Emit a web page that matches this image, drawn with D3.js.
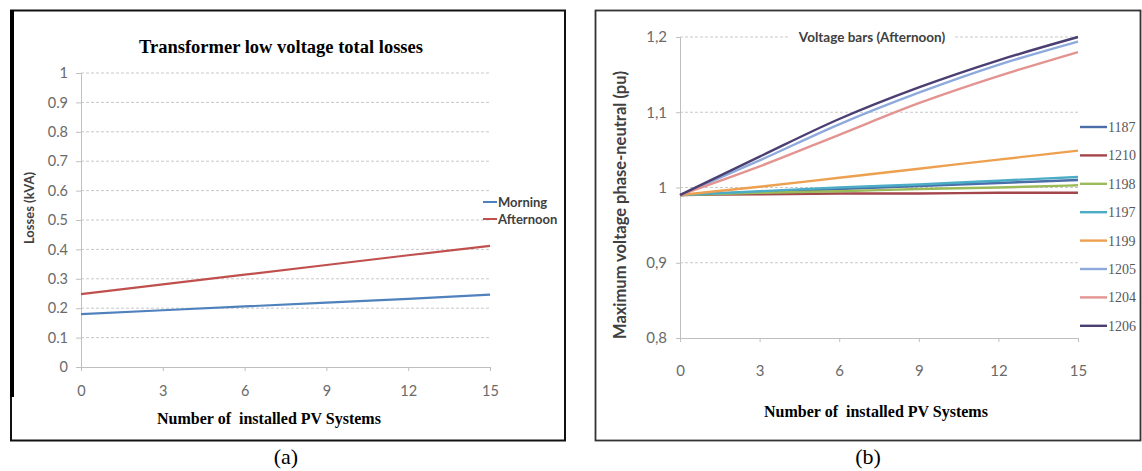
<!DOCTYPE html>
<html>
<head>
<meta charset="utf-8">
<script src="https://cdn.jsdelivr.net/npm/d3@7/dist/d3.min.js"></script>
<style>
  html, body { margin: 0; padding: 0; background: #fff; }
  svg { display: block; }
  .tick text { fill: #6a6a6a; font-family: Lato, "Open Sans", sans-serif; }
  .domain, .tick line { stroke: #bfbfbf; }
</style>
</head>
<body>
<svg id="fig" width="1142" height="471"></svg>
<script>
// ---- Panel (a): transformer losses ----
const pvCountsA = [0, 3, 6, 9, 12, 15];
const lossMorning = [0.180, 0.193, 0.206, 0.219, 0.232, 0.246];
const lossAfternoon = [0.248, 0.281, 0.314, 0.347, 0.380, 0.412];
const lossSeries = ["Morning", "Afternoon"];
const lossTicks = [0, 0.1, 0.2, 0.3, 0.4, 0.5, 0.6, 0.7, 0.8, 0.9, 1];
const pvTicks = [0, 3, 6, 9, 12, 15];

// ---- Panel (b): bus voltages, afternoon ----
const pvCountsB = [0, 3, 6, 9, 12, 15];
const busNames = ["1187", "1210", "1198", "1197", "1199", "1205", "1204", "1206"];
const v1187 = [0.990, 0.994, 0.998, 1.002, 1.006, 1.010];
const v1210 = [0.990, 0.991, 0.992, 0.992, 0.993, 0.993];
const v1198 = [0.990, 0.993, 0.995, 0.998, 1.000, 1.003];
const v1197 = [0.990, 0.995, 1.000, 1.004, 1.009, 1.014];
const v1199 = [0.990, 1.001, 1.013, 1.025, 1.037, 1.049];
const v1205 = [0.990, 1.036, 1.084, 1.126, 1.163, 1.194];
const v1204 = [0.990, 1.028, 1.070, 1.112, 1.148, 1.180];
const v1206 = [0.990, 1.041, 1.091, 1.133, 1.169, 1.200];
const voltTicks = [0.8, 0.9, 1, 1.1, 1.2];

const svg = d3.select("#fig");

// ================= Panel (a) =================
const ga = svg.append("g");
// frame
ga.append("rect").attr("x", 11).attr("y", 10.5).attr("width", 554).attr("height", 430)
  .attr("fill", "none").attr("stroke", "#111").attr("stroke-width", 2);
ga.append("line").attr("x1", 12).attr("x2", 12).attr("y1", 10).attr("y2", 397)
  .attr("stroke", "#000").attr("stroke-width", 4);

const xA = d3.scaleLinear().domain([0, 15]).range([81, 490]);
const yA = d3.scaleLinear().domain([0, 1]).range([367, 73]);

// gridlines
ga.append("g").selectAll("line").data(lossTicks.filter(d => d > 0)).join("line")
  .attr("x1", xA(0)).attr("x2", xA(15))
  .attr("y1", d => yA(d)).attr("y2", d => yA(d))
  .attr("stroke", "#c9c9c9").attr("stroke-dasharray", "3,2");

ga.append("g").attr("transform", `translate(${xA(0)},0)`)
  .call(d3.axisLeft(yA).tickValues(lossTicks).tickFormat(d3.format("")).tickSize(5).tickPadding(8))
  .call(g => g.selectAll(".tick text").attr("font-size", 14.5));
ga.append("g").attr("transform", `translate(0,${yA(0)})`)
  .call(d3.axisBottom(xA).tickValues(pvTicks).tickSize(4).tickPadding(15))
  .call(g => g.selectAll(".tick text").attr("font-size", 14.5));

const lossColors = ["#4f81bd", "#c0504d"];
const lossData = [lossMorning, lossAfternoon];
const lineA = d3.line().x((d, i) => xA(pvCountsA[i])).y(d => yA(d));
ga.append("g").selectAll("path").data(lossData).join("path")
  .attr("d", lineA).attr("fill", "none")
  .attr("stroke", (d, i) => lossColors[i]).attr("stroke-width", 2.2);

// legend
const legA = ga.append("g").selectAll("g").data(lossSeries).join("g")
  .attr("transform", (d, i) => `translate(483,${202 + i * 17})`);
legA.append("line").attr("x1", 0).attr("x2", 14)
  .attr("stroke", (d, i) => lossColors[i]).attr("stroke-width", 2);
legA.append("text").attr("x", 15).attr("dy", "0.35em")
  .attr("font-family", "Lato, sans-serif").attr("font-weight", "bold").attr("font-size", 13)
  .attr("fill", "#404040").text(d => d);

ga.append("text").attr("x", 281).attr("y", 53).attr("text-anchor", "middle")
  .attr("font-family", "'Liberation Serif', serif").attr("font-weight", "bold").attr("font-size", 18.5)
  .text("Transformer low voltage total losses");
ga.append("text").attr("x", 269).attr("y", 424).attr("text-anchor", "middle")
  .attr("font-family", "'Liberation Serif', serif").attr("font-weight", "bold").attr("font-size", 16)
  .style("white-space", "pre")
  .text("Number of  installed PV Systems");
ga.append("text").attr("transform", "translate(34,208) rotate(-90)").attr("text-anchor", "middle")
  .attr("font-family", "Lato, sans-serif").attr("font-weight", "bold").attr("font-size", 13)
  .attr("fill", "#404040").text("Losses (kVA)");
ga.append("text").attr("x", 286).attr("y", 464).attr("text-anchor", "middle")
  .attr("font-family", "'Liberation Serif', serif").attr("font-size", 22).text("(a)");

// ================= Panel (b) =================
const gb = svg.append("g");
gb.append("rect").attr("x", 595.5).attr("y", 10.5).attr("width", 545).attr("height", 430)
  .attr("fill", "none").attr("stroke", "#333").attr("stroke-width", 1.8);

const xB = d3.scaleLinear().domain([0, 15]).range([680, 1078]);
const yB = d3.scaleLinear().domain([0.8, 1.2]).range([338, 37]);

gb.append("g").selectAll("line").data(voltTicks.filter(d => d > 0.8)).join("line")
  .attr("x1", xB(0)).attr("x2", xB(15))
  .attr("y1", d => yB(d)).attr("y2", d => yB(d))
  .attr("stroke", "#c9c9c9").attr("stroke-dasharray", "3,2");

const commaFmt = d => String(d).replace(".", ",");
gb.append("g").attr("transform", `translate(${xB(0)},0)`)
  .call(d3.axisLeft(yB).tickValues(voltTicks).tickFormat(commaFmt).tickSize(4).tickPadding(9))
  .call(g => g.selectAll(".tick text").attr("font-size", 15));
gb.append("g").attr("transform", `translate(0,${yB(0.8)})`)
  .call(d3.axisBottom(xB).tickValues(pvTicks).tickSize(4).tickPadding(23))
  .call(g => g.selectAll(".tick text").attr("font-size", 15));

// chart title sits over the top gridline
const titleB = gb.append("g");
titleB.append("rect").attr("x", 789).attr("y", 28).attr("width", 166).attr("height", 18).attr("fill", "#fff");
titleB.append("text").attr("x", 872).attr("y", 37).attr("dy", "0.35em").attr("text-anchor", "middle")
  .attr("font-family", "Lato, sans-serif").attr("font-weight", "bold").attr("font-size", 13.5)
  .attr("fill", "#404040").text("Voltage bars (Afternoon)");

const busColors = ["#4a6ea8", "#a4474c", "#9bbb59", "#4bacc6", "#eda04f", "#8eaadc", "#e39490", "#4b3f72"];
const busData = [v1187, v1210, v1198, v1197, v1199, v1205, v1204, v1206];
const lineB = d3.line().curve(d3.curveMonotoneX).x((d, i) => xB(pvCountsB[i])).y(d => yB(d));
gb.append("g").selectAll("path").data(busData).join("path")
  .attr("d", lineB).attr("fill", "none")
  .attr("stroke", (d, i) => busColors[i]).attr("stroke-width", 2.4);

const legB = gb.append("g").selectAll("g").data(busNames).join("g")
  .attr("transform", (d, i) => `translate(1080,${127 + i * 28.4})`);
legB.append("line").attr("x1", 0).attr("x2", 27)
  .attr("stroke", (d, i) => busColors[i]).attr("stroke-width", 2.4);
legB.append("text").attr("x", 28).attr("dy", "0.35em")
  .attr("font-family", "'Liberation Serif', serif").attr("font-size", 14)
  .attr("fill", "#595959").text(d => d);

gb.append("text").attr("x", 876).attr("y", 417).attr("text-anchor", "middle")
  .attr("font-family", "'Liberation Serif', serif").attr("font-weight", "bold").attr("font-size", 16)
  .style("white-space", "pre")
  .text("Number of  installed PV Systems");
gb.append("text").attr("transform", "translate(626,205) rotate(-90)").attr("text-anchor", "middle")
  .attr("font-family", "Lato, sans-serif").attr("font-weight", "bold").attr("font-size", 16.5)
  .attr("fill", "#404040").text("Maximum voltage phase-neutral (pu)");
gb.append("text").attr("x", 868).attr("y", 464).attr("text-anchor", "middle")
  .attr("font-family", "'Liberation Serif', serif").attr("font-size", 22).text("(b)");
</script>
</body>
</html>
